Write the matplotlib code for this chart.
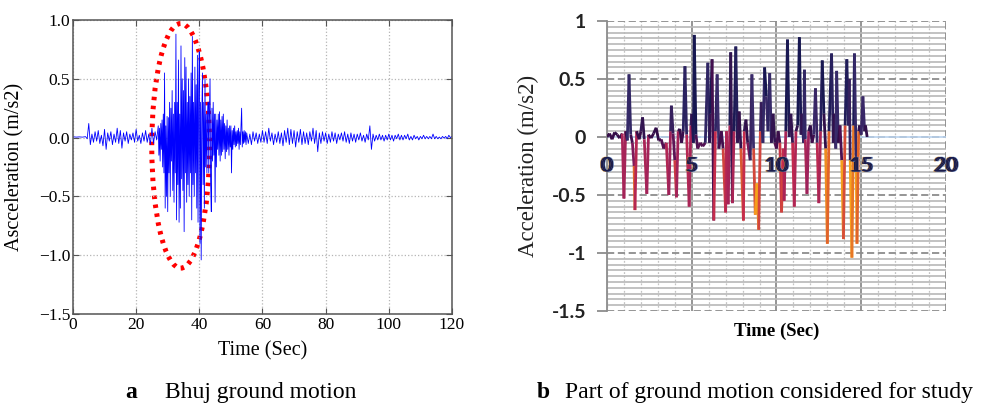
import numpy as np
import matplotlib
matplotlib.use("Agg")
import matplotlib.pyplot as plt
from matplotlib.patches import Ellipse
from matplotlib.collections import LineCollection
from matplotlib.colors import LinearSegmentedColormap, Normalize
from matplotlib.ticker import MultipleLocator
import matplotlib.patheffects as pe

# ---- data: panel a, Bhuj record (0-120 s) ----
# quiet start, 0 - 26.5 s, every 0.5 s
acc_a1 = [0.005, 0.006, 0.004, 0.005, 0.006, 0.005, 0.004, 0.006,
          0.008, -0.01,
          0.12, -0.06, 0.03, -0.04, 0.05, -0.03, 0.06, -0.05,
          0.02, -0.07, 0.07, -0.1, 0.04, -0.03, 0.05, -0.06,
          0.03, -0.04, 0.08, -0.05, 0.06, -0.09, 0.04, -0.03,
          0.05, -0.05, 0.03, -0.02, 0.04, -0.04, 0.07, -0.03,
          0.02, -0.05, 0.04, -0.03, 0.06, -0.04, 0.03, -0.06,
          0.08, -0.05, 0.05, -0.02]
# strong part, 27 - 54.8 s, every 0.2 s
acc_a2 = [0.1, -0.15, 0.08, -0.2, 0.12,
          -0.1, 0.15, -0.25, 0.2, -0.3,
          0.55, -0.6, 0.1, -0.5, 0.18,
          -0.63, 0.17, -0.3, 0.3, -0.5,
          0.25, -0.2, 0.4, -0.45, 0.2,
          -0.55, 0.3, -0.3, 0.88, -0.7,
          0.3, -0.4, 0.66, -0.72, 0.2,
          -0.6, 0.78, -0.35, 0.5, -0.45,
          0.4, -0.8, 0.68, -0.3, 0.6,
          -0.55, 0.3, -0.4, 0.5, -0.5,
          0.35, -0.3, 0.55, -0.7, 0.86,
          -0.4, 0.3, -0.5, 0.6, -0.3,
          0.45, -0.6, 0.7, -0.72, 0.4,
          0.73, -0.9, 0.3, -1.04, 0.2,
          0.55, -0.4, 0.3, -0.6, 0.5,
          -0.25, 0.2, -0.3, 0.15, 0.3,
          -0.3, 0.2, 0.5, -0.4, -0.63,
          0.25, -0.2, 0.3, -0.15, 0.2,
          -0.55, 0.2, -0.25, 0.15, -0.1,
          0.2, -0.15, 0.22, -0.2, 0.15,
          -0.15, 0.18, -0.12, 0.2, -0.1,
          0.12, -0.18, 0.1, -0.12, 0.15,
          -0.1, 0.08, -0.15, 0.1, -0.08,
          0.1, -0.3, 0.06, -0.1, 0.08,
          -0.06, 0.1, -0.08, 0.05, -0.07,
          0.06, -0.05, 0.08, -0.1, 0.05,
          -0.06, 0.1, 0.25, -0.08, 0.05,
          -0.05, 0.06, -0.04, 0.05, -0.06]
# coda, 55 - 120 s, every 0.5 s
acc_a3 = [0.04, -0.05, 0.03, -0.06, 0.05, -0.03, 0.04, -0.05, 0.03, -0.04,
          0.06, -0.04, 0.05, -0.05, 0.08, -0.03, 0.04, -0.06, 0.03, -0.04,
          0.05, -0.05, 0.04, -0.07, 0.06, -0.04, 0.08, -0.06, 0.07, -0.05,
          0.06, -0.08, 0.05, -0.04, 0.07, -0.06, 0.05, -0.05, 0.04, -0.06,
          0.05, -0.03, 0.08, -0.05, 0.06, -0.12, 0.04, -0.05, 0.05, -0.03,
          0.04, -0.05, 0.03, -0.04, 0.05, -0.03, 0.04, -0.05, 0.03, -0.02,
          0.04, -0.03, 0.05, -0.04, 0.03, -0.05, 0.04, -0.03, 0.03, -0.04,
          0.03, -0.02, 0.04, -0.03, 0.02, -0.04, 0.03, -0.02, 0.1, -0.1,
          0.03, -0.03, 0.02, -0.02, 0.03, -0.02, 0.02, -0.03, 0.02, -0.02,
          0.03, -0.02, 0.02, -0.03, 0.02, -0.01, 0.03, -0.02, 0.02, -0.02,
          0.02, -0.01, 0.03, -0.02, 0.01, -0.02, 0.02, -0.01, 0.01, -0.02,
          0.01, -0.01, 0.02, -0.01, 0.01, -0.01, 0.01, -0.01, 0.03, -0.01,
          0.01, -0.01, 0.005, -0.01, 0.01, -0.005, 0.01, -0.01, 0.02, 0.0,
          0.01]
t_a = np.concatenate([np.arange(len(acc_a1)) * 0.5,
                      27 + np.arange(len(acc_a2)) * 0.2,
                      55 + np.arange(len(acc_a3)) * 0.5])
acc_a = np.array(acc_a1 + acc_a2 + acc_a3)

x_ticks_a = [0, 20, 40, 60, 80, 100, 120]
y_ticks_a = [-1.5, -1.0, -0.5, 0.0, 0.5, 1.0]
y_labels_a = ["\u22121.5", "\u22121.0", "\u22120.5", "0.0", "0.5", "1.0"]

# ---- data: panel b, part used for study (0-15.35 s) ----
t_b = [0.0, 0.15, 0.3, 0.45, 0.6, 0.75, 0.9, 1.0, 1.1, 1.2, 1.3, 1.4, 1.5, 1.6, 1.65,
       1.75, 1.9, 2.0, 2.1, 2.2, 2.35, 2.45, 2.6, 2.75, 2.9, 3.05, 3.2, 3.35, 3.5, 3.65,
       3.75, 3.8, 3.9, 4.0, 4.1, 4.2, 4.3, 4.4, 4.5, 4.6, 4.7, 4.85, 4.95, 5.0, 5.1,
       5.15, 5.25, 5.35, 5.5, 5.65, 5.8, 5.95, 6.05, 6.1, 6.2, 6.3, 6.4, 6.5, 6.6, 6.75,
       6.85, 7.0, 7.05, 7.15, 7.25, 7.3, 7.4, 7.5, 7.6, 7.7, 7.8, 7.9, 8.05, 8.1, 8.2,
       8.3, 8.45, 8.55, 8.65, 8.75, 8.85, 8.95, 9.05, 9.1, 9.2, 9.3, 9.4, 9.5, 9.6, 9.7,
       9.8, 9.9, 10.0, 10.1, 10.2, 10.3, 10.4, 10.45, 10.55, 10.65, 10.75, 10.85, 10.95,
       11.05, 11.15, 11.25, 11.35, 11.45, 11.5, 11.6, 11.65, 11.7, 11.8, 11.9, 12.0, 12.1,
       12.2, 12.3, 12.4, 12.5, 12.6, 12.7, 12.8, 12.9, 13.0, 13.1, 13.25, 13.35, 13.4,
       13.5, 13.55, 13.65, 13.75, 13.85, 13.95, 14.05, 14.15, 14.25, 14.3, 14.35, 14.45,
       14.55, 14.6, 14.7, 14.75, 14.85, 14.9, 15.0, 15.1, 15.2, 15.25, 15.35]
acc_b = [0.0, 0.03, -0.02, 0.04, 0.02, -0.01, 0.03, -0.53, 0.05, -0.03, 0.54, 0.02, -0.05, -0.25, -0.63,
         0.05, -0.02, 0.05, 0.17, -0.02, -0.49, 0.02, -0.01, 0.03, 0.08, -0.03, -0.02, -0.1, -0.05, -0.5,
         0.05, 0.27, 0.03, -0.2, -0.52, 0.05, 0.07, -0.05, 0.05, 0.61, 0.02, -0.6, 0.1, 0.2, -0.05,
         0.88, 0.02, -0.1, -0.05, -0.08, -0.05, 0.64, -0.05, 0.2, 0.67, -0.72, 0.05, 0.54, -0.1, 0.05,
         -0.1, -0.65, 0.05, -0.58, 0.1, 0.73, -0.57, 0.05, 0.78, -0.05, 0.22, -0.1, -0.72, 0.05, 0.15,
         -0.05, -0.2, 0.54, -0.1, -0.67, -0.4, -0.8, 0.05, 0.3, -0.05, 0.6, 0.35, 0.05, 0.55, -0.05,
         0.2, -0.05, -0.1, 0.05, -0.05, -0.65, -0.1, -0.55, 0.05, 0.84, 0.0, 0.2, -0.05,
         -0.6, 0.05, 0.1, 0.86, 0.02, 0.2, -0.05, 0.58, -0.02, -0.49, 0.05, 0.1, -0.05,
         0.02, 0.42, -0.05, -0.57, 0.05, 0.66, 0.2, -0.1, -0.92, 0.05, 0.72, -0.05, 0.2,
         -0.1, 0.57, -0.05, 0.1, -0.2, -0.88, 0.1, 0.67, 0.1, 0.5, -0.2, -1.04,
         0.1, 0.72, -0.2, -0.92, 0.05, 0.1, 0.02, 0.35, 0.05, 0.1, 0.0]
x_ticks_b = [0, 5, 10, 15, 20]
y_ticks_b = [-1.5, -1, -0.5, 0, 0.5, 1]
y_labels_b = ["-1.5", "-1", "-0.5", "0", "0.5", "1"]

serif = ["Liberation Serif", "DejaVu Serif"]

fig = plt.figure(figsize=(9.86, 4.04), dpi=100)

# ---------- panel a ----------
ax1 = fig.add_axes([0.074, 0.2228, 0.3844, 0.7277])
ax1.plot(t_a, acc_a, color="#0000ff", lw=0.6)
ax1.add_patch(Ellipse((34.1, -0.07), width=18.3, height=2.08, fill=False,
                      edgecolor="#ff0000", lw=3.6, linestyle=(0, (0.7, 1.1))))
ax1.set_xlim(0, 120)
ax1.set_ylim(-1.5, 1.0)
ax1.set_xticks(x_ticks_a)
ax1.set_xticklabels([str(v) for v in x_ticks_a], family=serif, fontsize=12.5)
ax1.set_yticks(y_ticks_a)
ax1.set_yticklabels(y_labels_a, family=serif, fontsize=12.5)
ax1.tick_params(direction="in", length=4, pad=2, color="#555555", top=True, right=True)
ax1.grid(True, linestyle=":", color="#b5b5b5", lw=0.9)
for s in ax1.spines.values():
    s.set_color("#555555")
    s.set_linewidth(1.1)
ax1.set_xlabel("Time (Sec)", family=serif, fontsize=14.5, labelpad=6)
ax1.set_ylabel("Ascceleration (m/s2)", family=serif, fontsize=14.5, labelpad=10)

# ---------- panel b ----------
ax2 = fig.add_axes([0.6156, 0.2302, 0.3438, 0.7178])
ax2.set_xlim(0, 20)
ax2.set_ylim(-1.5, 1.0)
ax2.set_xticks([5, 10, 15])
ax2.set_xticklabels([])
ax2.xaxis.set_minor_locator(MultipleLocator(1))
ax2.set_yticks(y_ticks_b)
ax2.set_yticklabels(y_labels_b, family=["Lato", "DejaVu Sans"], fontweight="bold",
                    fontsize=14, color="#222222")
ax2.yaxis.set_minor_locator(MultipleLocator(0.05))
ax2.tick_params(axis="x", which="both", length=0)
ax2.tick_params(axis="y", which="major", length=7, width=1.3, color="#8c8c8c", pad=8)
ax2.tick_params(axis="y", which="minor", length=0)
ax2.grid(True, axis="y", which="minor", color="#b8b8b8", lw=1.2, linestyle="-")
ax2.grid(True, axis="y", which="major", color="#8c8c8c", lw=1.3, linestyle=(0, (4, 2)))
ax2.grid(True, axis="x", which="minor", color="#c4c4c4", lw=0.9, linestyle=(0, (1.5, 1.5)))
ax2.grid(True, axis="x", which="major", color="#8c8c8c", lw=1.3, linestyle="-")
ax2.set_axisbelow(True)
for k in ["top", "right", "bottom"]:
    ax2.spines[k].set_visible(False)
ax2.spines["left"].set_color("#8c8c8c")
ax2.spines["left"].set_linewidth(1.3)
ax2.axvline(20, color="#8c8c8c", lw=1.3, linestyle=(0, (4, 2)), zorder=1)
ax2.axhline(0, color="#b9d2ee", lw=1.2, zorder=2)

pts = np.column_stack([t_b, acc_b])
segs = np.stack([pts[:-1], pts[1:]], axis=1)
mid = (np.array(acc_b[:-1]) + np.array(acc_b[1:])) / 2
cmap = LinearSegmentedColormap.from_list("quake", [
    (0.00, "#f7a21b"), (0.12, "#e0602a"), (0.22, "#c42a4e"), (0.36, "#93205e"),
    (0.50, "#4c1052"), (0.58, "#300c46"), (0.78, "#3a2c6c"), (1.00, "#161650")])
lc = LineCollection(segs, cmap=cmap, norm=Normalize(-0.55, 0.45), lw=2.0, zorder=3)
lc.set_array(mid)
ax2.add_collection(lc)

# x tick labels sit inside the plot, just under the zero line (with colour fringes)
fringe = [pe.Stroke(offset=(-1.0, 0), linewidth=0.3, foreground="#f0a030"),
          pe.Stroke(offset=(1.0, 0), linewidth=0.3, foreground="#6fa0e0"),
          pe.Normal()]
for v in x_ticks_b:
    ax2.text(v, -0.25, str(v), ha="center", va="center", fontsize=14.5,
             color="#1c1c4a", family=["Lato", "DejaVu Sans"], zorder=4,
             path_effects=fringe)

ax2.set_xlabel("Time (Sec)", family=serif, fontweight="bold", fontsize=13.5, labelpad=5)
ax2.set_ylabel("Acceleration (m/s2)", family=serif, fontsize=16.5, labelpad=9, color="#222222")

# ---------- captions ----------
fig.text(125 / 986, 0.015, "a", family=serif, fontweight="bold", fontsize=17, va="baseline")
fig.text(165 / 986, 0.015, "Bhuj ground motion", family=serif, fontsize=17, va="baseline")
fig.text(537 / 986, 0.015, "b", family=serif, fontweight="bold", fontsize=17, va="baseline")
fig.text(565 / 986, 0.015, "Part of ground motion considered for study", family=serif,
         fontsize=17, va="baseline")

fig.savefig("out.png", dpi=100)
